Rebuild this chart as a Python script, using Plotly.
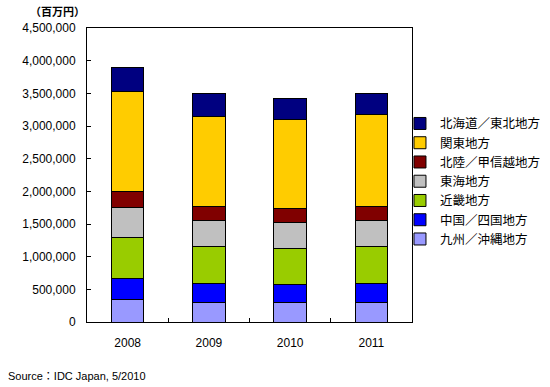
import plotly.graph_objects as go

years = ["2008", "2009", "2010", "2011"]
regions = ["九州／沖縄地方", "中国／四国地方", "近畿地方", "東海地方",
           "北陸／甲信越地方", "関東地方", "北海道／東北地方"]
colors = ["#9999FF", "#0000FF", "#99CC00", "#C0C0C0", "#800000", "#FFCC00", "#000080"]

kyushu   = [350000, 305000, 295000, 305000]
chugoku  = [320000, 280000, 275000, 280000]
kinki    = [630000, 570000, 560000, 570000]
tokai    = [455000, 400000, 400000, 400000]
hokuriku = [240000, 210000, 210000, 210000]
kanto    = [1530000, 1385000, 1360000, 1405000]
hokkaido = [365000, 345000, 325000, 335000]
series = [kyushu, chugoku, kinki, tokai, hokuriku, kanto, hokkaido]

yticks = [0, 500000, 1000000, 1500000, 2000000, 2500000, 3000000, 3500000, 4000000, 4500000]

font_family = "Liberation Sans, Arial, Noto Sans CJK JP"

fig = go.Figure()
for name, vals, col in zip(regions, series, colors):
    fig.add_trace(go.Bar(
        x=years, y=vals, name=name,
        marker=dict(color=col, line=dict(color="#000000", width=1)),
        width=0.4,
    ))

fig.update_layout(
    width=550, height=387,
    barmode="stack",
    plot_bgcolor="white", paper_bgcolor="white",
    margin=dict(l=87, r=138, t=28, b=65, autoexpand=False),
    font=dict(family=font_family, size=12, color="#000000"),
    showlegend=True,
    legend=dict(
        traceorder="reversed",
        x=0.963, y=0.725, xanchor="left", yanchor="top",
        font=dict(size=12.5, family="Noto Sans CJK JP"),
        itemwidth=30, tracegroupgap=0,
        bgcolor="rgba(0,0,0,0)",
    ),
    xaxis=dict(
        type="category",
        showline=True, linecolor="#000000", linewidth=1, mirror=True,
        ticks="inside", ticklen=4, tickcolor="#000000",
        tickson="boundaries",
        tickfont=dict(size=12, color="#000000"),
        showgrid=False,
        ticklabelstandoff=10,
    ),
    yaxis=dict(
        range=[0, 4500000],
        tickvals=yticks,
        tickformat=",",
        showline=True, linecolor="#000000", linewidth=1, mirror=True,
        ticks="inside", ticklen=4, tickcolor="#000000",
        tickfont=dict(size=12, color="#000000"),
        showgrid=False, zeroline=False,
        ticklabelstandoff=8,
    ),
    annotations=[
        dict(text="<b>（百万円）</b>", xref="paper", yref="paper", x=-0.092, y=1.0,
             yshift=17, xanchor="center", yanchor="middle", showarrow=False,
             font=dict(size=11, family="Noto Sans CJK JP")),
        dict(text="Source：IDC Japan, 5/2010", xref="paper", yref="paper",
             x=-0.25, y=0, yshift=-62, xanchor="left", yanchor="bottom",
             showarrow=False, font=dict(size=11)),
    ],
)

fig.write_html("out.html", config={"displayModeBar": False},
               post_script="document.body.style.margin='0';document.body.style.overflow='hidden';")
